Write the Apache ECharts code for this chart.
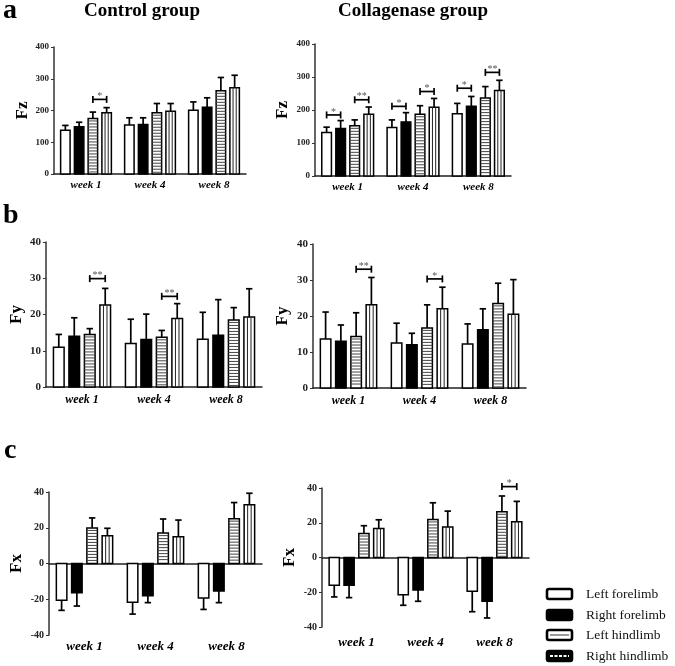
<!DOCTYPE html>
<html><head><meta charset="utf-8">
<script src="https://cdn.jsdelivr.net/npm/echarts@6/dist/echarts.min.js"></script>
<style>html,body{margin:0;padding:0;background:#fff}#c{width:675px;height:666px}</style>
</head><body><div id="c"></div>
<script>
const weeks = ['week 1', 'week 4', 'week 8'];
const limbs = ['Left forelimb', 'Right forelimb', 'Left hindlimb', 'Right hindlimb'];

// rows = weeks, columns = limbs (LF, RF, LH, RH)
const fzCtrlMean = [[138, 149, 175, 193], [154, 156, 193, 198], [201, 210, 262, 272]];
const fzCtrlErr  = [[15, 14, 20, 16], [23, 21, 29, 24], [26, 30, 42, 39]];
const fzCollMean = [[132, 144, 152, 187], [147, 164, 187, 208], [189, 211, 236, 259]];
const fzCollErr  = [[16, 24, 18, 22], [23, 28, 26, 27], [31, 30, 35, 31]];

const fyCtrlMean = [[11.0, 14.0, 14.5, 22.6], [12.0, 13.1, 13.7, 18.9], [13.2, 14.3, 18.5, 19.3]];
const fyCtrlErr  = [[3.5, 5.1, 1.6, 4.6], [6.7, 7.0, 1.9, 4.1], [7.4, 9.8, 3.4, 7.8]];
const fyCollMean = [[13.6, 13.0, 14.3, 23.1], [12.5, 12.0, 16.7, 22.0], [12.2, 16.2, 23.5, 20.5]];
const fyCollErr  = [[7.5, 4.5, 6.6, 7.6], [5.5, 3.2, 6.4, 6.0], [5.6, 5.8, 5.6, 9.6]];

const fxCtrlMean = [[-20.6, -16.3, 19.9, 15.5], [-21.7, -18.0, 17.0, 15.0], [-19.3, -15.4, 25.1, 32.8]];
const fxCtrlErr  = [[5.6, 7.5, 5.6, 4.2], [6.6, 3.9, 7.9, 9.3], [6.4, 6.5, 9.0, 6.5]];
const fxCollMean = [[-16.0, -16.0, 13.8, 16.7], [-21.5, -18.7, 21.9, 17.5], [-19.4, -25.2, 26.3, 20.6]];
const fxCollErr  = [[6.7, 7.1, 4.5, 5.0], [6.0, 6.5, 9.6, 9.2], [11.8, 9.6, 9.1, 11.7]];

// significance: [week index, limb a, limb b, bracket value, label]
const fzCtrlSig = [[0, 2, 3, 235, '*']];
const fzCollSig = [[0, 0, 1, 185, '*'], [0, 2, 3, 231, '**'], [1, 0, 1, 211, '*'], [1, 2, 3, 256, '*'], [2, 0, 1, 266, '*'], [2, 2, 3, 314, '**']];
const fyCtrlSig = [[0, 2, 3, 29.9, '**'], [1, 2, 3, 25.0, '**']];
const fyCollSig = [[0, 2, 3, 33.0, '**'], [1, 2, 3, 30.3, '*']];
const fxCtrlSig = [];
const fxCollSig = [[2, 2, 3, 40.8, '*']];

const SERIF = "'Liberation Serif','Times New Roman',serif";
const PITCH = 0.215, BW = 0.148;

const panels = [
  {mean: fzCtrlMean, err: fzCtrlErr, sig: fzCtrlSig, min: 0, max: 400, interval: 100, name: 'Fz',
   grid: {left: 54, top: 47, width: 192, height: 127}, ySize: 9, xSize: 11, nameGap: 19, xMargin: 6, split: false},
  {mean: fzCollMean, err: fzCollErr, sig: fzCollSig, min: 0, max: 400, interval: 100, name: 'Fz',
   grid: {left: 315, top: 44, width: 196, height: 132}, ySize: 9, xSize: 11, nameGap: 24, xMargin: 6, split: false},
  {mean: fyCtrlMean, err: fyCtrlErr, sig: fyCtrlSig, min: 0, max: 40, interval: 10, name: 'Fy',
   grid: {left: 46, top: 242, width: 216, height: 145}, ySize: 11, xSize: 12, nameGap: 21, xMargin: 7, split: false},
  {mean: fyCollMean, err: fyCollErr, sig: fyCollSig, min: 0, max: 40, interval: 10, name: 'Fy',
   grid: {left: 313, top: 244, width: 213, height: 144}, ySize: 11, xSize: 12, nameGap: 22, xMargin: 7, split: false},
  {mean: fxCtrlMean, err: fxCtrlErr, sig: fxCtrlSig, min: -40, max: 40, interval: 20, name: 'Fx',
   grid: {left: 49, top: 492, width: 213, height: 143}, ySize: 10, xSize: 13, nameGap: 24, xMargin: 5, split: true},
  {mean: fxCollMean, err: fxCollErr, sig: fxCollSig, min: -40, max: 40, interval: 20, name: 'Fx',
   grid: {left: 322, top: 488, width: 207, height: 139}, ySize: 10, xSize: 13, nameGap: 24, xMargin: 9, split: true}
];

function barRenderer(k) {
  return function (params, api) {
    const w = api.value(0), v = api.value(1), e = api.value(2);
    const base = api.coord([w, 0]);
    const band = api.size([1, 0])[0];
    const pitch = band * PITCH, bw = band * BW;
    const cx = base[0] + (k - 1.5) * pitch;
    const yTop = api.coord([w, v])[1];
    const yErr = api.coord([w, v >= 0 ? v + e : v - e])[1];
    const ry = Math.min(base[1], yTop), h = Math.abs(base[1] - yTop);
    const ls = {stroke: '#000', lineWidth: 1.7};
    const ch = [
      {type: 'line', shape: {x1: cx, y1: yTop, x2: cx, y2: yErr}, style: ls},
      {type: 'line', shape: {x1: cx - 3.2, y1: yErr, x2: cx + 3.2, y2: yErr}, style: ls},
      {type: 'rect', shape: {x: cx - bw / 2, y: ry, width: bw, height: h},
       style: {fill: k === 1 ? '#000' : '#fff', stroke: '#000', lineWidth: 1.5}}
    ];
    if (k === 2) {
      for (let yy = ry + 2.5; yy < ry + h - 1; yy += 3) {
        ch.push({type: 'line', shape: {x1: cx - bw / 2, y1: yy, x2: cx + bw / 2, y2: yy},
                 style: {stroke: '#444', lineWidth: 1}});
      }
    }
    if (k === 3) {
      [-bw / 6, bw / 6].forEach(d => ch.push({type: 'line',
        shape: {x1: cx + d, y1: ry, x2: cx + d, y2: ry + h}, style: {stroke: '#222', lineWidth: 1}}));
    }
    return {type: 'group', children: ch};
  };
}

function sigRenderer(sig) {
  return function (params, api) {
    const s = sig[params.dataIndex];
    const c = api.coord([api.value(0), api.value(1)]);
    const band = api.size([1, 0])[0];
    const pitch = band * PITCH;
    const x1 = c[0] + (s[1] - 1.5) * pitch, x2 = c[0] + (s[2] - 1.5) * pitch;
    const ls = {stroke: '#000', lineWidth: 1.7};
    return {type: 'group', children: [
      {type: 'line', shape: {x1: x1, y1: c[1], x2: x2, y2: c[1]}, style: ls},
      {type: 'line', shape: {x1: x1, y1: c[1] - 3.5, x2: x1, y2: c[1] + 3.5}, style: ls},
      {type: 'line', shape: {x1: x2, y1: c[1] - 3.5, x2: x2, y2: c[1] + 3.5}, style: ls},
      {type: 'text', style: {text: s[4], x: (x1 + x2) / 2, y: c[1] - 3, align: 'center',
        verticalAlign: 'middle', fontSize: 10, fontFamily: SERIF, fill: '#555'}}
    ]};
  };
}

const grid = [], xAxis = [], yAxis = [], series = [];
panels.forEach((p, i) => {
  grid.push(Object.assign({outerBoundsMode: 'none', containLabel: false}, p.grid));
  const labelStyle = {fontFamily: SERIF, fontStyle: 'italic', fontWeight: 'bold', fontSize: p.xSize,
                      color: '#000', margin: p.xMargin};
  xAxis.push({
    type: 'category', gridIndex: i, data: weeks, position: 'bottom',
    axisLine: {onZero: true, lineStyle: {color: '#222', width: 1.5}},
    axisTick: {alignWithLabel: true, length: 3, lineStyle: {color: '#222'}},
    axisLabel: Object.assign({show: !p.split}, labelStyle),
    splitLine: {show: false}
  });
  yAxis.push({
    type: 'value', gridIndex: i, min: p.min, max: p.max, interval: p.interval,
    name: p.name, nameLocation: 'middle', nameGap: p.nameGap,
    nameTextStyle: {fontFamily: SERIF, fontWeight: 'bold', fontSize: 17, color: '#000'},
    axisLine: {show: true, lineStyle: {color: '#333', width: 1.5}},
    axisTick: {show: true, length: 3, lineStyle: {color: '#333'}},
    axisLabel: {fontFamily: SERIF, fontWeight: 'bold', fontSize: p.ySize, color: '#222', margin: 5},
    splitLine: {show: false}
  });
  limbs.forEach((name, k) => {
    series.push({
      type: 'custom', name: name, xAxisIndex: i, yAxisIndex: i, clip: false,
      renderItem: barRenderer(k),
      encode: {x: 0, y: 1},
      data: weeks.map((w, j) => [j, p.mean[j][k], p.err[j][k]])
    });
  });
  series.push({
    type: 'custom', name: 'sig' + i, xAxisIndex: i, yAxisIndex: i, clip: false,
    renderItem: sigRenderer(p.sig), encode: {x: 0, y: 1},
    data: p.sig.map(s => [s[0], s[3]])
  });
});
// label-only bottom axes for the Fx panels (their axis line sits at zero)
panels.forEach((p, i) => {
  if (!p.split) return;
  xAxis.push({
    type: 'category', gridIndex: i, data: weeks, position: 'bottom', offset: 0,
    axisLine: {show: false, onZero: false}, axisTick: {show: false},
    axisLabel: {show: true, fontFamily: SERIF, fontStyle: 'italic', fontWeight: 'bold',
                fontSize: p.xSize, color: '#000', margin: p.xMargin},
    splitLine: {show: false}
  });
});

const graphic = [
  {type: 'text', left: 3, top: -3, style: {text: 'a', fontSize: 28, fontWeight: 'bold', fontFamily: SERIF, fill: '#000'}},
  {type: 'text', left: 3, top: 202, style: {text: 'b', fontSize: 28, fontWeight: 'bold', fontFamily: SERIF, fill: '#000'}},
  {type: 'text', left: 4, top: 437, style: {text: 'c', fontSize: 28, fontWeight: 'bold', fontFamily: SERIF, fill: '#000'}},
  {type: 'text', x: 142, y: 11, style: {text: 'Control group', align: 'center', verticalAlign: 'middle', fontSize: 19, fontWeight: 'bold', fontFamily: SERIF, fill: '#000'}},
  {type: 'text', x: 413, y: 11, style: {text: 'Collagenase group', align: 'center', verticalAlign: 'middle', fontSize: 19, fontWeight: 'bold', fontFamily: SERIF, fill: '#000'}}
];
const legY = [594, 615, 635, 656];
limbs.forEach((name, k) => {
  const y = legY[k];
  const icon = {type: 'rect', shape: {x: 547, y: y - 5, width: 25, height: 10, r: 2},
    style: {fill: k === 0 || k === 2 ? '#fff' : '#000', stroke: '#000', lineWidth: 2.6}};
  graphic.push(icon);
  if (k === 2) graphic.push({type: 'line', shape: {x1: 550, y1: y, x2: 569, y2: y}, style: {stroke: '#999', lineWidth: 2}});
  if (k === 3) graphic.push({type: 'line', shape: {x1: 550, y1: y, x2: 569, y2: y}, style: {stroke: '#fff', lineWidth: 2, lineDash: [3, 1.5]}});
  graphic.push({type: 'text', x: 586, y: y, style: {text: name, verticalAlign: 'middle', fontSize: 13.5, fontFamily: SERIF, fill: '#111'}});
});

const chart = echarts.init(document.getElementById('c'), null, {renderer: 'canvas'});
chart.setOption({
  animation: false, backgroundColor: '#fff',
  grid: grid, xAxis: xAxis, yAxis: yAxis, series: series, graphic: graphic
});
</script></body></html>
